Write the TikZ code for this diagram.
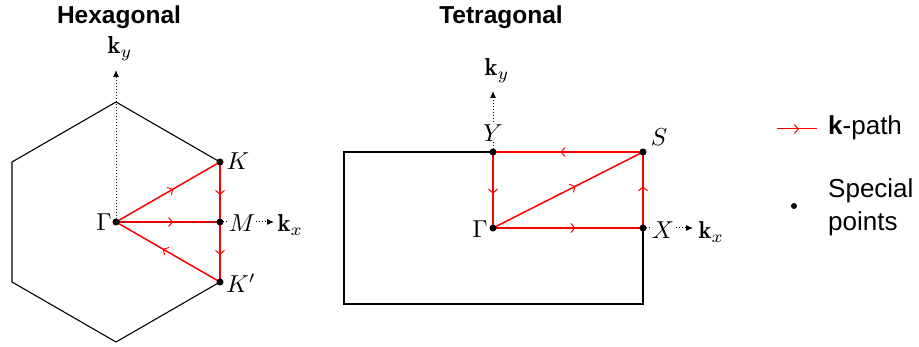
\documentclass[tikz,border=0pt]{standalone}
\usepackage{fontspec}
\usepackage{graphicx}
\newfontfamily\sansfnt{Liberation Sans}
\newcommand{\mylbl}[1]{\scalebox{2.45}{$#1$}}
\usetikzlibrary{arrows.meta,decorations.markings}
\tikzset{
  bz/.style={draw=black,line width=1.1pt},
  kp/.style={draw=red,line width=1.5pt},
  midarrow/.style={postaction={decorate,decoration={markings,mark=at position 0.55 with {\arrow[red,line width=1pt]{Straight Barb[length=4pt,width=9pt]}}}}},
  axis/.style={draw=black,dotted,line width=1pt,-{Latex[length=7pt,width=6pt]}},
  spt/.style={circle,fill=black,inner sep=0pt,minimum size=7pt},
  lab/.style={inner sep=0.5pt},
  title/.style={font=\sansfnt\bfseries\fontsize{24.5}{28}\selectfont},
  legtxt/.style={font=\sansfnt\fontsize{26}{33}\selectfont,align=left,anchor=west,inner sep=0pt}
}
\begin{document}
\begin{tikzpicture}[x=1pt,y=-1pt]
\useasboundingbox (0,0) rectangle (919,347);
% ---------- Hexagonal ----------
\node[title] (th) at (119,17) {Hexagonal};
\coordinate (h1) at (116,102);
\coordinate (h2) at (220,162);
\coordinate (h3) at (220,282);
\coordinate (h4) at (116,342);
\coordinate (h5) at (12,282);
\coordinate (h6) at (12,162);
\draw[bz] (h1) -- (h2) -- (h3) -- (h4) -- (h5) -- (h6) -- cycle;
\coordinate (G1) at (116,222);
\coordinate (K) at (220,162);
\coordinate (M) at (220,222);
\coordinate (Kp) at (220,282);
\coordinate (kyh) at (116,70);
\coordinate (kxh) at (274,222);
\draw[axis] (G1) -- (kyh);
\node[lab] (kyhl) at (120,49) {\mylbl{\mathbf{k}_y}};
\draw[kp,midarrow] (G1) -- (K);
\draw[kp,midarrow] (K) -- (M);
\draw[kp,midarrow] (M) -- (Kp);
\draw[kp,midarrow] (Kp) -- (G1);
\draw[kp,midarrow] (G1) -- (M);
\draw[black,dotted,line width=0.8pt,opacity=0.5] (G1) -- (M);
\draw[axis] (M) -- (kxh);
\node[lab,fill=white,inner sep=0.3pt] (Ml) at (242,223) {\mylbl{M}};
\node[lab,anchor=west] (kxhl) at (277,225) {\mylbl{\mathbf{k}_x}};
\node[spt] (G1p) at (G1) {};
\node[spt] (Kpt) at (K) {};
\node[spt] (Mpt) at (M) {};
\node[spt] (Kppt) at (Kp) {};
\node[lab] (Gl1) at (104,222) {\mylbl{\Gamma}};
\node[lab] (Kl) at (238,161) {\mylbl{K}};
\node[lab] (Kpl) at (241,283) {\mylbl{K'}};
% ---------- Tetragonal ----------
\node[title] (tt) at (501,17) {Tetragonal};
\coordinate (r1) at (344,152);
\coordinate (r2) at (643,152);
\coordinate (r3) at (643,304);
\coordinate (r4) at (344,304);
\draw[bz] (r1) -- (r2) -- (r3) -- (r4) -- cycle;
\coordinate (G2) at (493,228);
\coordinate (Y) at (493,152);
\coordinate (S) at (643,152);
\coordinate (X) at (643,228);
\coordinate (kyt) at (493,91);
\coordinate (kxt) at (693,228);
\draw[black,dotted,line width=0.8pt] (G2) -- (Y);
\draw[black,dotted,line width=0.8pt] (G2) -- (X);
\draw[axis] (Y) -- (kyt);
\draw[axis] (X) -- (kxt);
\node[lab,fill=white,inner sep=0.3pt] (Yl) at (493,133) {\mylbl{Y}};
\node[lab] (kytl) at (497,71) {\mylbl{\mathbf{k}_y}};
\node[lab,fill=white,inner sep=0.3pt] (Xl) at (663,230) {\mylbl{X}};
\node[lab,anchor=west] (kxtl) at (698,232) {\mylbl{\mathbf{k}_x}};
\draw[kp,midarrow] (G2) -- (X);
\draw[kp,midarrow] (X) -- (S);
\draw[kp,midarrow] (S) -- (Y);
\draw[kp,midarrow] (Y) -- (G2);
\draw[kp,midarrow] (G2) -- (S);
\node[spt] (G2p) at (G2) {};
\node[spt] (Ypt) at (Y) {};
\node[spt] (Spt) at (S) {};
\node[spt] (Xpt) at (X) {};
\node[lab] (Gl2) at (480,229) {\mylbl{\Gamma}};
\node[lab] (Sl) at (659,137) {\mylbl{S}};
% ---------- Legend ----------
\coordinate (la) at (777,129);
\coordinate (lb) at (817,129);
\draw[red,line width=1pt,postaction={decorate,decoration={markings,mark=at position 0.55 with {\arrow[red,line width=1pt]{Straight Barb[length=4pt,width=9pt]}}}}] (la) -- (lb);
\node[legtxt] (lk) at (828,128) {\textbf{k}-path};
\node[spt,minimum size=6pt] (ld) at (794,206) {};
\node[legtxt] (ls) at (828,207) {Special\\points};
\end{tikzpicture}
\end{document}
